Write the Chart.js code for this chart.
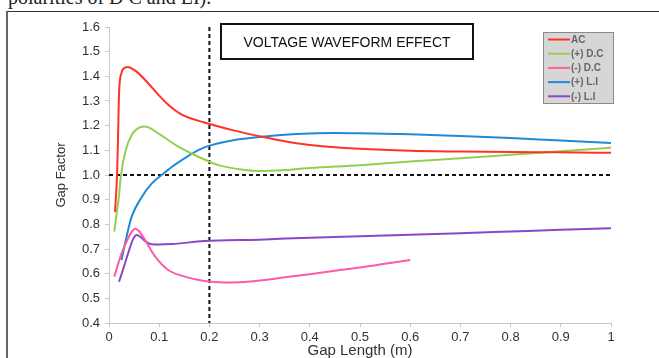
<!DOCTYPE html>
<html>
<head>
<meta charset="utf-8">
<script src="https://cdn.jsdelivr.net/npm/chart.js@4"></script>
<style>
  body { margin: 0; background: #fff; overflow: hidden; }
  #page { position: relative; width: 659px; height: 358px; }
  #caption { position: absolute; left: 8px; top: -14px; font: 20px "Liberation Serif", serif; color: #222; white-space: nowrap; }
  #frame { position: absolute; left: 6px; top: 11px; width: 700px; height: 400px; border-top: 1px solid #333; border-left: 2px solid #666; }
  #wrap { position: absolute; left: 0; top: 0; width: 659px; height: 358px; }
</style>
</head>
<body>
<div id="page">
  <div id="caption">polarities of D C and LI).</div>
  <div id="frame"></div>
  <div id="wrap"><canvas id="chart"></canvas></div>
</div>
<script>
// values
const seriesNames = ['AC', '(+) D.C', '(-) D.C', '(+) L.I', '(-) L.I'];
const seriesColors = ['#ff3322', '#92d050', '#ff5aa8', '#1f8ad6', '#8a48c6'];

const acX = [0.012, 0.016, 0.018, 0.02, 0.025, 0.03, 0.037, 0.045, 0.058, 0.078, 0.098, 0.118, 0.145, 0.19, 0.25, 0.31, 0.35, 0.4, 0.5, 0.6, 0.7, 0.8, 0.9, 1.0];
const acY = [0.85, 1.0, 1.15, 1.33, 1.415, 1.433, 1.438, 1.432, 1.414, 1.372, 1.326, 1.285, 1.245, 1.213, 1.18, 1.153, 1.137, 1.122, 1.106, 1.098, 1.095, 1.093, 1.092, 1.09];

const pdcX = [0.0106, 0.015, 0.019, 0.024, 0.032, 0.045, 0.058, 0.07, 0.08, 0.098, 0.118, 0.138, 0.178, 0.218, 0.271, 0.3, 0.35, 0.4, 0.5, 0.6, 0.7, 0.8, 0.9, 1.0];
const pdcY = [0.77, 0.84, 0.9, 1.0, 1.09, 1.162, 1.19, 1.197, 1.192, 1.169, 1.142, 1.115, 1.074, 1.04, 1.02, 1.016, 1.02, 1.028, 1.04, 1.055, 1.068, 1.082, 1.096, 1.11];

const ndcX = [0.0106, 0.025, 0.038, 0.047, 0.053, 0.06, 0.072, 0.092, 0.118, 0.151, 0.19, 0.23, 0.27, 0.3, 0.35, 0.4, 0.45, 0.5, 0.6];
const ndcY = [0.588, 0.682, 0.743, 0.775, 0.782, 0.772, 0.736, 0.669, 0.615, 0.588, 0.57, 0.564, 0.566, 0.572, 0.585, 0.598, 0.612, 0.625, 0.655];

const pliX = [0.025, 0.035, 0.045, 0.065, 0.085, 0.108, 0.13, 0.16, 0.19, 0.25, 0.31, 0.35, 0.4, 0.45, 0.5, 0.6, 0.7, 0.8, 0.9, 1.0];
const pliY = [0.655, 0.75, 0.83, 0.91, 0.965, 1.005, 1.04, 1.08, 1.112, 1.142, 1.156, 1.163, 1.168, 1.17, 1.169, 1.165, 1.158, 1.15, 1.14, 1.13];

const nliX = [0.02, 0.03, 0.038, 0.048, 0.055, 0.062, 0.072, 0.085, 0.1, 0.125, 0.19, 0.3, 0.4, 0.5, 0.6, 0.7, 0.8, 0.9, 1.0];
const nliY = [0.567, 0.63, 0.682, 0.74, 0.757, 0.75, 0.732, 0.719, 0.718, 0.72, 0.732, 0.738, 0.746, 0.752, 0.758, 0.764, 0.771, 0.778, 0.784];

const xTickLabels = ['0', '0.1', '0.2', '0.3', '0.4', '0.5', '0.6', '0.7', '0.8', '0.9', '1'];
const yTickLabels = ['0.4', '0.5', '0.6', '0.7', '0.8', '0.9', '1.0', '1.1', '1.2', '1.3', '1.4', '1.5', '1.6'];

const chartTitle = 'VOLTAGE WAVEFORM EFFECT';
const refX = 0.2;
const refY = 1.0;

const toPoints = (xs, ys) => xs.map((x, i) => ({ x: x, y: ys[i] }));
const allX = [acX, pdcX, ndcX, pliX, nliX];
const allY = [acY, pdcY, ndcY, pliY, nliY];

const datasets = seriesNames.map((name, i) => ({
  label: name,
  data: toPoints(allX[i], allY[i]),
  borderColor: seriesColors[i],
  backgroundColor: seriesColors[i],
  borderWidth: 2,
  pointRadius: 0,
  cubicInterpolationMode: 'monotone',
  fill: false
}));

// dashed reference lines, title box and legend box
const extras = {
  id: 'extras',
  beforeDatasetsDraw(chart) {
    const { ctx, chartArea, scales } = chart;
    const px = scales.x.getPixelForValue(refX);
    const py = scales.y.getPixelForValue(refY);
    ctx.save();
    ctx.strokeStyle = '#111';
    ctx.lineWidth = 2;
    ctx.setLineDash([4, 3]);
    ctx.beginPath();
    ctx.moveTo(px, chartArea.top);
    ctx.lineTo(px, chartArea.bottom);
    ctx.moveTo(chartArea.left, py);
    ctx.lineTo(chartArea.right, py);
    ctx.stroke();
    ctx.restore();
  },
  afterDatasetsDraw(chart) {
    const { ctx } = chart;
    ctx.save();
    // title box
    ctx.fillStyle = '#fff';
    ctx.fillRect(221, 24, 252, 35);
    ctx.strokeStyle = '#111';
    ctx.lineWidth = 2;
    ctx.strokeRect(221, 24, 252, 35);
    ctx.fillStyle = '#111';
    ctx.font = '14px "Liberation Sans", Arial, sans-serif';
    ctx.textAlign = 'center';
    ctx.textBaseline = 'middle';
    ctx.fillText(chartTitle, 347, 43);

    // legend box
    ctx.fillStyle = '#d6d6d6';
    ctx.fillRect(543, 32, 70, 71);
    ctx.strokeStyle = '#8a8a8a';
    ctx.lineWidth = 1;
    ctx.strokeRect(543.5, 32.5, 70, 71);
    ctx.font = 'bold 10px "Liberation Sans", Arial, sans-serif';
    ctx.textAlign = 'left';
    chart.data.datasets.forEach((ds, i) => {
      const y = 39.5 + i * 14.2;
      ctx.strokeStyle = ds.borderColor;
      ctx.lineWidth = 2;
      ctx.beginPath();
      ctx.moveTo(548, y);
      ctx.lineTo(570, y);
      ctx.stroke();
      ctx.fillStyle = '#666';
      ctx.fillText(ds.label, 571, y + 0.5);
    });
    ctx.restore();
  }
};

new Chart(document.getElementById('chart'), {
  type: 'line',
  data: { datasets: datasets },
  options: {
    responsive: true,
    maintainAspectRatio: false,
    animation: false,
    layout: { padding: { left: 50, right: 48, top: 27, bottom: 0 } },
    plugins: {
      legend: { display: false },
      tooltip: { enabled: false }
    },
    scales: {
      x: {
        type: 'linear',
        min: 0,
        max: 1,
        afterFit: (scale) => { scale.height = 35; },
        grid: { drawOnChartArea: false, color: '#c8c8c8', tickLength: 4 },
        border: { color: '#c8c8c8' },
        ticks: {
          stepSize: 0.1,
          padding: 3,
          color: '#333',
          font: { family: '"Liberation Sans", Arial, sans-serif', size: 13 },
          callback: (value, index) => xTickLabels[index]
        },
        title: {
          display: true,
          text: 'Gap Length (m)',
          color: '#333',
          padding: { top: 0, bottom: 0 },
          font: { family: '"Liberation Sans", Arial, sans-serif', size: 15, lineHeight: 1 }
        }
      },
      y: {
        min: 0.4,
        max: 1.6,
        afterFit: (scale) => { scale.width = 59; },
        grid: { drawOnChartArea: false, color: '#c8c8c8', tickLength: 4 },
        border: { color: '#c8c8c8' },
        ticks: {
          stepSize: 0.1,
          padding: 5,
          color: '#333',
          font: { family: '"Liberation Sans", Arial, sans-serif', size: 13 },
          callback: (value, index) => yTickLabels[index]
        },
        title: {
          display: true,
          text: 'Gap Factor',
          color: '#333',
          padding: { top: 5, bottom: 0 },
          font: { family: '"Liberation Sans", Arial, sans-serif', size: 13, lineHeight: 1 }
        }
      }
    }
  },
  plugins: [extras]
});
</script>
</body>
</html>
